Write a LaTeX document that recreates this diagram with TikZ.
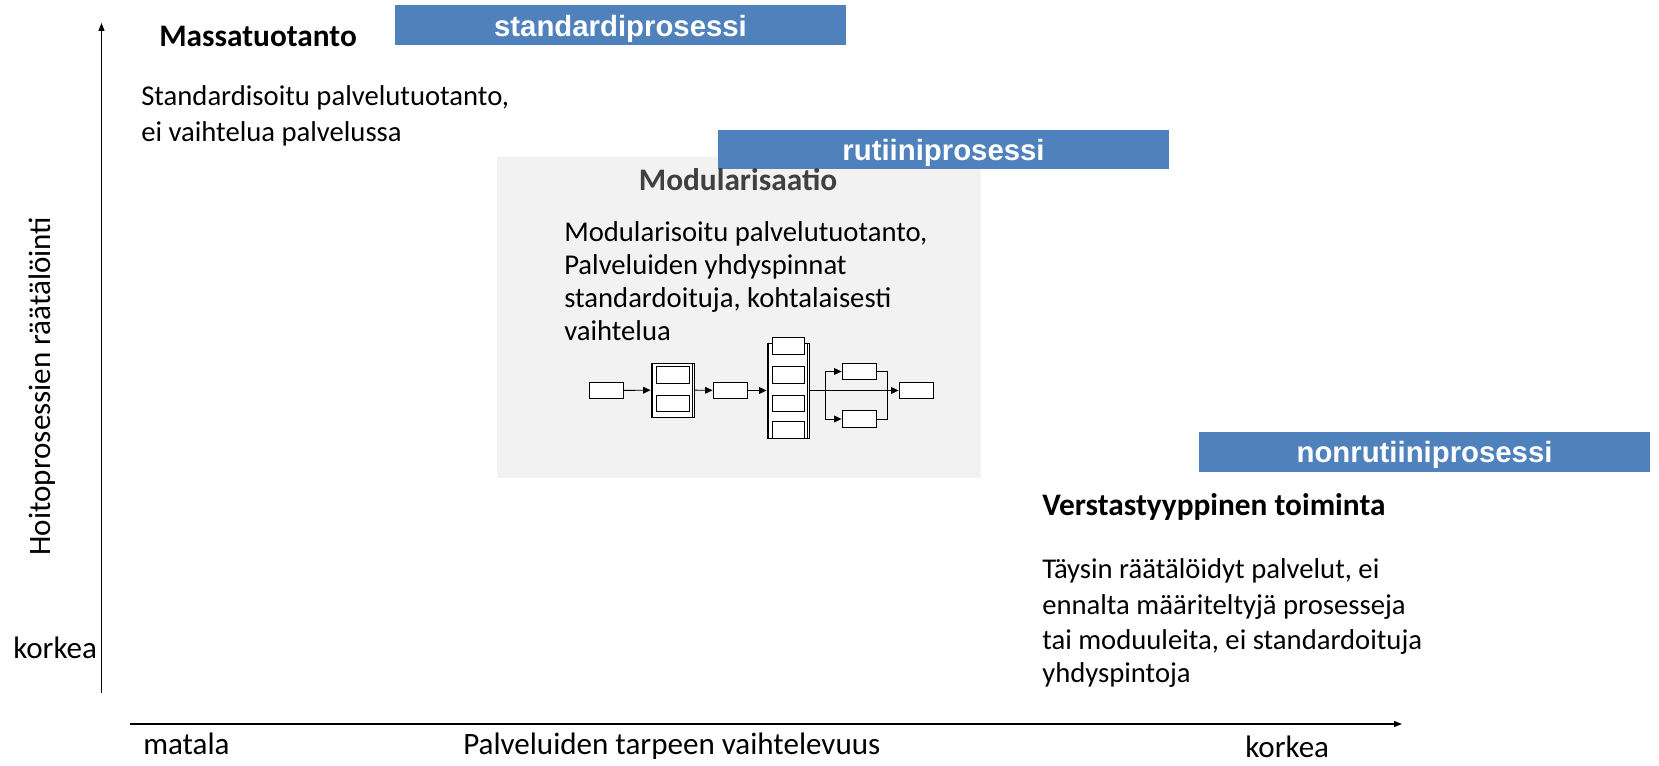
\documentclass[tikz,border=0pt]{standalone}
\usepackage{fontspec}
\setmainfont{Carlito}
\newfontfamily\barfont{Liberation Sans}
\usetikzlibrary{arrows.meta}
\definecolor{barblue}{HTML}{4F81BD}
\definecolor{panelgray}{HTML}{F2F2F2}
\definecolor{headgray}{HTML}{404040}

\begin{document}
\begin{tikzpicture}[x=0.75pt,y=-0.75pt,
  lbl/.style={anchor=west,inner sep=0pt,text height=0.72em,text depth=0.22em},
  body/.style={lbl,font=\fontsize{21.5}{25}\selectfont},
  axislbl/.style={lbl,font=\fontsize{23.3}{27}\selectfont},
  head/.style={lbl,font=\fontsize{23.5}{27}\selectfont\bfseries},
  bar/.style={fill=barblue,inner sep=0pt,minimum width=338.25pt,minimum height=29.5pt},
  bartext/.style={text=white,inner sep=0pt,font=\barfont\fontsize{22}{25}\selectfont\bfseries},
  mbox/.style={draw,fill=white,line width=0.7pt,inner sep=0pt,
    minimum width=25.5pt,minimum height=12.5pt},
  frame/.style={draw,fill=white,line width=0.7pt,inner sep=0pt},
  flow/.style={line width=0.7pt,-{Triangle[length=5.5pt,width=5pt]}},
  link/.style={line width=0.7pt},
  axis/.style={line width=0.9pt,-{Triangle[length=6pt,width=4.5pt]}}
]
\useasboundingbox (0,0) rectangle (1659,766);

% axes
\coordinate (yorig) at (101.5,693);
\coordinate (ytop) at (101.5,23);
\coordinate (xorig) at (130,724);
\coordinate (xend) at (1402,724);
\draw[axis] (yorig) -- (ytop);
\draw[axis] (xorig) -- (xend);

\node[axislbl,anchor=center,rotate=90] (ylabel) at (47,386) {Hoitoprosessien räätälöinti};
\node[axislbl] (ykorkea) at (13,655) {korkea};
\node[axislbl] (xmatala) at (143,751) {matala};
\node[axislbl] (xlabel) at (463,751) {Palveluiden tarpeen vaihtelevuus};
\node[axislbl] (xkorkea) at (1245,754) {korkea};

% mass production corner
\node[bar] (stdbar) at (620.5,25) {};
\node[bartext] (stdtext) at (620.5,29) {standardiprosessi};
\node[head] (mass) at (159,43) {Massatuotanto};
\node[body] (mass1) at (141,102) {Standardisoitu palvelutuotanto,};
\node[body] (mass2) at (141,138) {ei vaihtelua palvelussa};

% modular panel
\fill[panelgray] (497,157) rectangle (981,478);
\node[bar] (rutbar) at (943.5,149.5) {};
\node[bartext] (ruttext) at (943.5,152.5) {rutiiniprosessi};
\node[head,anchor=center,text=headgray] (modhead) at (738,187) {Modularisaatio};
\node[body] (mod1) at (564,238) {Modularisoitu palvelutuotanto,};
\node[body] (mod2) at (564,271) {Palveluiden yhdyspinnat};
\node[body] (mod3) at (564,304) {standardoituja, kohtalaisesti};
\node[body] (mod4) at (564,337) {vaihtelua};

% module flow sketch
\node[mbox] (m1) at (606.5,390.5) {};
\node[frame,minimum width=32.25pt,minimum height=40.5pt] (m2) at (672.5,390) {};
\draw[link] ([xshift=1.5pt]m2.north west) -- ([xshift=1.5pt]m2.south west);
\draw[link] ([xshift=-1.5pt]m2.north east) -- ([xshift=-1.5pt]m2.south east);
\node[mbox,minimum width=24.75pt] (m2a) at (672.5,375) {};
\node[mbox,minimum width=24.75pt] (m2b) at (672.5,403.5) {};
\node[mbox] (m3) at (730,390.5) {};
\node[frame,minimum width=31.5pt,minimum height=71.25pt] (m4) at (788,390.5) {};
\draw[link] ([xshift=1.5pt]m4.north west) -- ([xshift=1.5pt]m4.south west);
\draw[link] ([xshift=-1.5pt]m4.north east) -- ([xshift=-1.5pt]m4.south east);
\node[mbox,minimum width=24pt] (m4a) at (788,346) {};
\node[mbox,minimum width=24pt] (m4b) at (788,375) {};
\node[mbox,minimum width=24pt] (m4c) at (788,403.5) {};
\node[mbox,minimum width=24pt] (m4d) at (788,430) {};
\node[mbox] (b1) at (859,371.5) {};
\node[mbox] (b2) at (859,419) {};
\node[mbox] (m5) at (916,390.5) {};
\coordinate (split) at (825,390.5);
\coordinate (merge) at (887,390.5);

\draw[flow] (m1) -- (m2);
\draw[flow] (m2) -- (m3);
\draw[flow] (m3) -- (m4);
\draw[flow] (m4) -- (m5);
\draw[flow] (split) |- (b1);
\draw[flow] (split) |- (b2);
\draw[link] (b1) -| (merge);
\draw[link] (b2) -| (merge);

% workshop corner
\node[bar] (nonbar) at (1424.5,452) {};
\node[bartext] (nontext) at (1424.5,455) {nonrutiiniprosessi};
\node[head] (shop) at (1042,512) {Verstastyyppinen toiminta};
\node[body] (shop1) at (1042,575) {Täysin räätälöidyt palvelut, ei};
\node[body] (shop2) at (1042,611) {ennalta määriteltyjä prosesseja};
\node[body] (shop3) at (1042,646) {tai moduuleita, ei standardoituja};
\node[body] (shop4) at (1042,679) {yhdyspintoja};
\end{tikzpicture}
\end{document}
